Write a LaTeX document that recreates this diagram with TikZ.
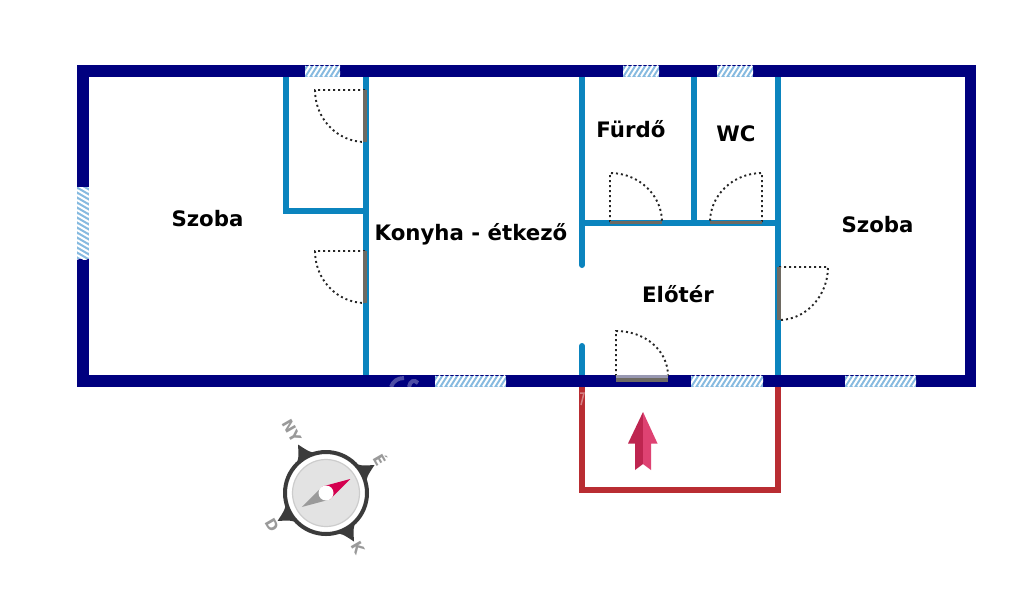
\documentclass[tikz,border=0pt]{standalone}
\usepackage{fontspec}
\setmainfont{DejaVu Sans}

\definecolor{wallnavy}{HTML}{00007F}
\definecolor{wallblue}{HTML}{0B84BE}
\definecolor{wallred}{HTML}{B92D32}
\definecolor{winblue}{HTML}{86BAE0}
\definecolor{leafgray}{HTML}{6E6A62}
\definecolor{arrowdark}{HTML}{BE2550}
\definecolor{arrowlight}{HTML}{DE4272}
\definecolor{compdark}{HTML}{3B3B3B}
\definecolor{compgray}{HTML}{9A9A9A}
\definecolor{needlered}{HTML}{D4004F}

\tikzset{
  roomlabel/.style={font=\bfseries\fontsize{21.3}{21.3}\selectfont,text=black,inner sep=0pt},
  complabel/.style={font=\bfseries\fontsize{15}{15}\selectfont,text=compgray,inner sep=0pt,rotate=-60},
  inwall/.style={draw=wallblue,line width=6pt},
  swing/.style={draw=black!85,line width=1.9pt,dash pattern=on 2pt off 3pt},
  leaf/.style={draw=leafgray,line width=3.2pt}
}

\begin{document}
\begin{tikzpicture}[x=1pt,y=-1pt]
\useasboundingbox (0,0) rectangle (1024,595);
\fill[white] (0,0) rectangle (1024,595);

% inner walls
\draw[inwall] (286,77)--(286,211)--(366,211);
\draw[inwall] (366,77)--(366,376);
\draw[inwall,line cap=round] (582,77)--(582,265);
\draw[inwall,line cap=round] (582,346)--(582,376);
\draw[inwall] (582,223)--(778,223);
\draw[inwall] (694,77)--(694,223);
\draw[inwall] (778,77)--(778,376);

% terrace
\draw[draw=wallred,line width=6pt] (582,387)--(582,490)--(778,490)--(778,387);

% outer wall
\draw[draw=wallnavy,line width=11.5pt] (83,71)--(970.5,71)--(970.5,381)--(83,381)--cycle;

% faint marks over the walls
\draw[draw=white,opacity=0.3,line width=4pt] (391,387) .. controls (393,381) and (398,378) .. (404,378);
\draw[draw=white,opacity=0.3,line width=4pt] (409,387) .. controls (410,381) and (414,379) .. (418,383);
\draw[draw=white,opacity=0.4,line width=1.5pt] (580,393)--(584,393)--(581,405);

% windows, top and bottom
\foreach \xa/\ya/\xb/\yb in {305/65.5/340/76.5, 623/65.5/659/76.5, 717/65.5/753/76.5,
  435/375.5/506/386.5, 691/375.5/763/386.5, 845/375.5/916/386.5}{
  \begin{scope}
    \clip (\xa,\ya) rectangle (\xb,\yb);
    \fill[winblue] (\xa,\ya) rectangle (\xb,\yb);
    \foreach \i in {-12,-7,...,78}
      \draw[white,line width=2pt] (\xa+\i,\yb)--(\xa+\i+7,\ya);
  \end{scope}
}
% window, left
\begin{scope}
  \clip (77,187) rectangle (89,259);
  \fill[winblue] (77,187) rectangle (89,259);
  \foreach \i in {-12,-7,...,78}
    \draw[white,line width=2pt] (77,187+\i)--(89,187+\i+7);
\end{scope}

% doors
\draw[swing] (365,90)--(315,90) .. controls (315,118.7) and (337.4,142) .. (365,142);
\draw[leaf] (365,90)--(365,142);
\draw[swing] (365,251)--(315,251) .. controls (315,279.7) and (337.4,303) .. (365,303);
\draw[leaf] (365,251)--(365,303);
\draw[swing] (610,222)--(610,173) .. controls (638.7,173) and (662,195) .. (662,222);
\draw[leaf] (610,222.4)--(662,222.4);
\draw[swing] (762,222)--(762,173) .. controls (733.3,173) and (710,195) .. (710,222);
\draw[leaf] (710,222.4)--(762,222.4);
\draw[swing] (779,267)--(828,267) .. controls (828,295.7) and (806,320) .. (779,320);
\draw[leaf] (779,267)--(779,320);
\draw[swing] (616,376)--(616,331) .. controls (644.7,331) and (668,350) .. (668,376);
\fill[fill=black!25!white,fill opacity=0.8] (616,375)--(668,375)--(668,378.5)--(616,378.5)--cycle;
\fill[leafgray] (616,378)--(668,378)--(668,381.5)--(616,381.5)--cycle;

% entrance arrow
\fill[arrowdark] (643,412)--(628,443.5)--(635,443.5)--(635,470)--(643,464)--cycle;
\fill[arrowlight] (643,412)--(657.5,443.5)--(651,443.5)--(651,470)--(643,464)--cycle;

% compass
\begin{scope}[shift={(326,493)}]
  \foreach \a in {30,120,210,300}{
    \fill[compdark,rotate=\a] (36,-15) .. controls (44,-6) .. (56,0) .. controls (44,6) .. (36,15)--cycle;
  }
  \draw[draw=compdark,fill=white,line width=4pt] (0,0) circle[radius=41];
  \draw[draw=black!20!white,fill=black!11!white,line width=1.2pt] (0,0) circle[radius=33.5];
  \begin{scope}[rotate=30]
    \fill[fill=compgray] (0,-7.5)--(-28,0)--(0,7.5)--cycle;
    \fill[fill=needlered] (0,-7.5)--(28,0)--(0,7.5)--cycle;
  \end{scope}
  \fill[white] (0,0) circle[radius=7.5];
\end{scope}
\node[complabel] (compny) at (292,431) {NY};
\node[complabel] (compe) at (381,459) {É};
\node[complabel] (compk) at (358.5,548) {K};
\node[complabel] (compd) at (272,525) {D};

% rooms
\node[roomlabel] (szobaleft) at (207.5,219) {Szoba};
\node[roomlabel] (konyha) at (471,234) {Konyha - étkező};
\node[roomlabel] (furdo) at (631,129) {Fürdő};
\node[roomlabel] (wc) at (736,134) {WC};
\node[roomlabel] (eloter) at (678,294) {Előtér};
\node[roomlabel] (szobaright) at (877.5,225) {Szoba};

\end{tikzpicture}
\end{document}
